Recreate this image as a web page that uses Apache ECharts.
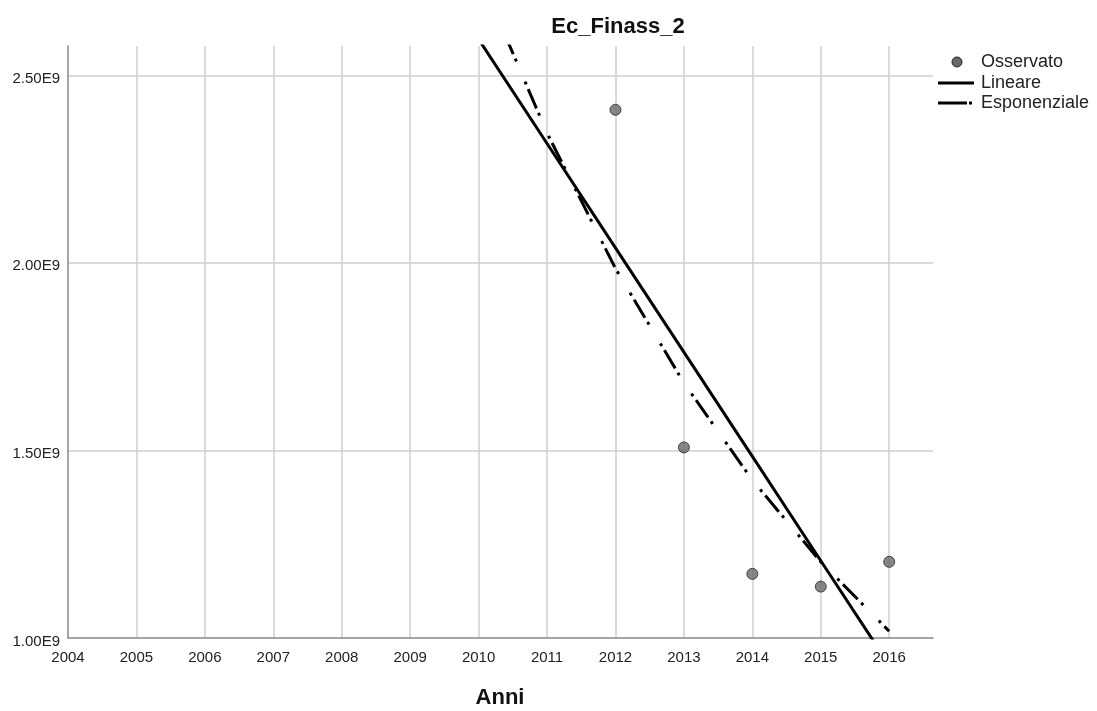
<!DOCTYPE html>
<html>
<head>
<meta charset="utf-8">
<script src="https://cdn.jsdelivr.net/npm/echarts@6/dist/echarts.min.js"></script>
<style>
html,body{margin:0;padding:0;background:#fff;}
#c{width:1097px;height:711px;}
</style>
</head>
<body>
<div id="c"></div>
<script>
// ---- data ----
const titleText = 'Ec_Finass_2';
const xAxisName = 'Anni';
const seriesNames = ['Osservato', 'Lineare', 'Esponenziale'];
const obsYears = [2012, 2013, 2014, 2015, 2016];
const obsValues = [2.408e9, 1.508e9, 1.171e9, 1.137e9, 1.203e9];
const fitYears = [2010, 2011, 2012, 2013, 2014, 2015, 2016];
const linValues = [2.596e9, 2.318e9, 2.040e9, 1.762e9, 1.484e9, 1.206e9, 0.928e9];
const expValues = [2.772e9, 2.346e9, 1.985e9, 1.680e9, 1.421e9, 1.203e9, 1.018e9];
const xMin = 2004, xMax = 2016.64, xStep = 1;
const yMin = 1.0e9, yMax = 2.578e9, yStep = 0.5e9;

const pairs = (xs, ys) => xs.map((x, i) => [x, ys[i]]);

const FONT = '"Liberation Sans", Arial, sans-serif';
const DOT_FILL = '#686868', DOT_BORDER = '#262626';
const EXP_DASH = [3, 5, 21, 5, 3, 22];

// legend drawn as graphic elements (icons without symbols)
const LX = 938, LY = [62, 83, 103], TX = 981;
const legendGraphics = [
  {type: 'circle', shape: {cx: 957, cy: LY[0], r: 5}, style: {fill: DOT_FILL, stroke: DOT_BORDER, lineWidth: 1}},
  {type: 'line', shape: {x1: LX, y1: LY[1], x2: LX + 36, y2: LY[1]}, style: {stroke: '#000', lineWidth: 3}},
  {type: 'line', shape: {x1: LX, y1: LY[2], x2: LX + 29, y2: LY[2]}, style: {stroke: '#000', lineWidth: 3}},
  {type: 'line', shape: {x1: LX + 31, y1: LY[2], x2: LX + 34, y2: LY[2]}, style: {stroke: '#000', lineWidth: 3}}
].concat(seriesNames.map((n, i) => ({
  type: 'text', x: TX, y: LY[i],
  style: {text: n, font: '18px ' + FONT, fill: '#222', textAlign: 'left', textVerticalAlign: 'middle'}
})));

const chart = echarts.init(document.getElementById('c'), null, {renderer: 'canvas'});
chart.setOption({
  animation: false,
  backgroundColor: '#ffffff',
  grid: {left: 68, right: 164, top: 46, bottom: 73, containLabel: false},
  graphic: [
    {type: 'text', x: 618, y: 27,
     style: {text: titleText, font: 'bold 22px ' + FONT, fill: '#111', textAlign: 'center', textVerticalAlign: 'middle'}},
    {type: 'text', x: 500, y: 698,
     style: {text: xAxisName, font: 'bold 22px ' + FONT, fill: '#111', textAlign: 'center', textVerticalAlign: 'middle'}}
  ].concat(legendGraphics),
  xAxis: {
    type: 'value', min: xMin, max: xMax, interval: xStep,
    axisLine: {show: true, onZero: false, lineStyle: {color: '#888', width: 1.5}},
    axisTick: {show: false},
    axisLabel: {
      margin: 12, fontFamily: FONT, fontSize: 15, color: '#222',
      showMaxLabel: false,
      formatter: v => (Math.abs(v - Math.round(v)) < 1e-6 ? String(Math.round(v)) : '')
    },
    splitLine: {show: true, showMinLine: false, showMaxLine: false, lineStyle: {color: '#cfcfcf', width: 1.5}}
  },
  yAxis: {
    type: 'value', min: yMin, max: yMax, interval: yStep,
    axisLine: {show: true, onZero: false, lineStyle: {color: '#888', width: 1.5}},
    axisTick: {show: false},
    axisLabel: {
      margin: 8, fontFamily: FONT, fontSize: 15, color: '#222',
      showMaxLabel: false,
      formatter: v => {
        const r = v / yStep;
        if (Math.abs(r - Math.round(r)) > 1e-6) return '';
        return '{a|' + (v / 1e9).toFixed(2) + 'E9}';
      },
      rich: {a: {fontFamily: FONT, fontSize: 15, color: '#222', padding: [7, 0, 0, 0]}}
    },
    splitLine: {show: true, showMinLine: false, showMaxLine: false, lineStyle: {color: '#cfcfcf', width: 1.5}}
  },
  series: [
    {
      name: seriesNames[0], type: 'scatter', z: 5,
      data: pairs(obsYears, obsValues),
      symbol: 'circle', symbolSize: 11,
      itemStyle: {color: DOT_FILL, borderColor: DOT_BORDER, borderWidth: 1}
    },
    {
      name: seriesNames[1], type: 'line', z: 4,
      data: pairs(fitYears, linValues),
      symbol: 'none', showSymbol: false, clip: true,
      lineStyle: {color: '#000', width: 3}
    },
    {
      name: seriesNames[2], type: 'line', z: 4,
      data: pairs(fitYears, expValues),
      symbol: 'none', showSymbol: false, clip: true,
      lineStyle: {color: '#000', width: 3, type: EXP_DASH, cap: 'butt'}
    }
  ]
});
</script>
</body>
</html>
